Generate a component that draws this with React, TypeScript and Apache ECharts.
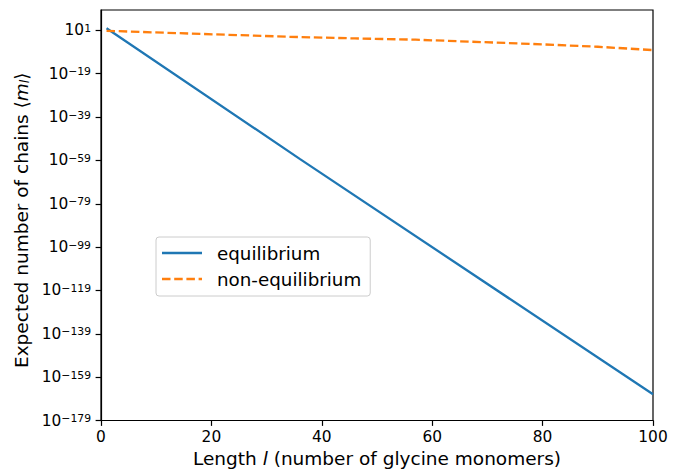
import React, { useEffect, useRef } from "react";
import * as echarts from "echarts";

// Chain length l (number of glycine monomers)
const eqLengths = [1, 36, 100];
// log10 of expected number of chains <m_l>, equilibrium
const eqLog10 = [2.0, -58.3, -166.9];

const neqLengths = [1, 34, 46, 57, 69, 80, 90, 100];
// log10 of expected number of chains <m_l>, non-equilibrium
const neqLog10 = [0.8, -1.95, -2.7, -3.3, -4.4, -5.45, -6.55, -8.1];

const xTicks = [0, 20, 40, 60, 80, 100];
const yTickExponents = [-179, -159, -139, -119, -99, -79, -59, -39, -19, 1];

const FONT = "DejaVu Sans";

export default function App() {
  const ref = useRef<HTMLDivElement>(null);

  useEffect(() => {
    if (!ref.current) return;
    const chart = echarts.init(ref.current, null, { renderer: "svg" });

    const fmtExp = (v: number) => {
      const n = Math.round(v);
      const s = n < 0 ? "\u2212" + String(-n) : String(n);
      return `{b|10}{e|${s}}`;
    };

    chart.setOption({
      animation: false,
      backgroundColor: "#fff",
      grid: {
        left: 101,
        top: 10,
        width: 552,
        height: 410.5,
        containLabel: false,
        outerBoundsMode: "none",
        show: true,
        borderColor: "#000",
        borderWidth: 1.2,
        backgroundColor: "transparent",
      },
      legend: {
        orient: "vertical",
        left: 156,
        top: 237,
        padding: [7, 9, 8, 6],
        itemGap: 8,
        itemWidth: 40,
        itemHeight: 2.3,
        backgroundColor: "#fff",
        borderColor: "#cccccc",
        borderWidth: 1,
        borderRadius: 3,
        itemStyle: { borderWidth: 0 },
        textStyle: {
          fontFamily: FONT,
          fontSize: 18.3,
          color: "#000",
          padding: [0, 0, 0, 10],
        },
        data: [
          { name: "equilibrium", icon: "rect" },
          {
            name: "non-equilibrium",
            icon:
              "path://M0,0h8.5v2.3h-8.5z M12.2,0h8.5v2.3h-8.5z M24.4,0h8.5v2.3h-8.5z M36.6,0h3.4v2.3h-3.4z",
          },
        ],
      },
      xAxis: {
        type: "value",
        min: xTicks[0],
        max: xTicks[xTicks.length - 1],
        interval: 20,
        name: "Length {i|l} (number of glycine monomers)",
        nameLocation: "middle",
        nameGap: 28,
        nameTextStyle: {
          fontFamily: FONT,
          fontSize: 18.5,
          color: "#000",
          rich: {
            i: { fontFamily: FONT, fontSize: 18.5, fontStyle: "italic", color: "#000" },
          },
        },
        axisLine: { show: true, onZero: false, lineStyle: { color: "#000", width: 1.2 } },
        axisTick: { show: true, inside: false, length: 5.4, lineStyle: { color: "#000", width: 1.2 } },
        axisLabel: { fontFamily: FONT, fontSize: 15.4, color: "#000", margin: 9 },
        splitLine: { show: false },
      },
      yAxis: {
        type: "value",
        min: -179,
        max: 10.4,
        name: "Expected number of chains \u27E8{i|m}{s|l}\u27E9",
        nameLocation: "middle",
        nameGap: 64,
        nameRotate: 90,
        nameTextStyle: {
          fontFamily: FONT,
          fontSize: 18.5,
          color: "#000",
          padding: [0, 10, 0, 0],
          rich: {
            i: { fontFamily: FONT, fontSize: 18.5, fontStyle: "italic", color: "#000" },
            s: {
              fontFamily: FONT,
              fontSize: 12.5,
              fontStyle: "italic",
              color: "#000",
              verticalAlign: "bottom",
            },
          },
        },
        axisLine: { show: true, onZero: false, lineStyle: { color: "#000", width: 1.2 } },
        axisTick: {
          show: true,
          inside: false,
          length: 5.4,
          customValues: yTickExponents,
          lineStyle: { color: "#000", width: 1.2 },
        },
        axisLabel: {
          customValues: yTickExponents,
          formatter: fmtExp,
          margin: 10,
          color: "#000",
          fontFamily: FONT,
          rich: {
            b: { fontFamily: FONT, fontSize: 15.4, color: "#000", verticalAlign: "bottom" },
            e: { fontFamily: FONT, fontSize: 10.8, color: "#000", verticalAlign: "top" },
          },
        },
        splitLine: { show: false },
      },
      series: [
        {
          name: "equilibrium",
          type: "line",
          showSymbol: false,
          symbol: "none",
          color: "#1f77b4",
          lineStyle: { color: "#1f77b4", width: 2.3 },
          data: eqLengths.map((l, i) => [l, eqLog10[i]]),
        },
        {
          name: "non-equilibrium",
          type: "line",
          showSymbol: false,
          symbol: "none",
          color: "#ff7f0e",
          lineStyle: { color: "#ff7f0e", width: 2.3, type: [8.5, 3.7] },
          data: neqLengths.map((l, i) => [l, neqLog10[i]]),
        },
      ],
    });

    return () => chart.dispose();
  }, []);

  return (
    <div
      ref={ref}
      style={{ position: "fixed", left: 0, top: 0, width: 678, height: 469 }}
    />
  );
}
